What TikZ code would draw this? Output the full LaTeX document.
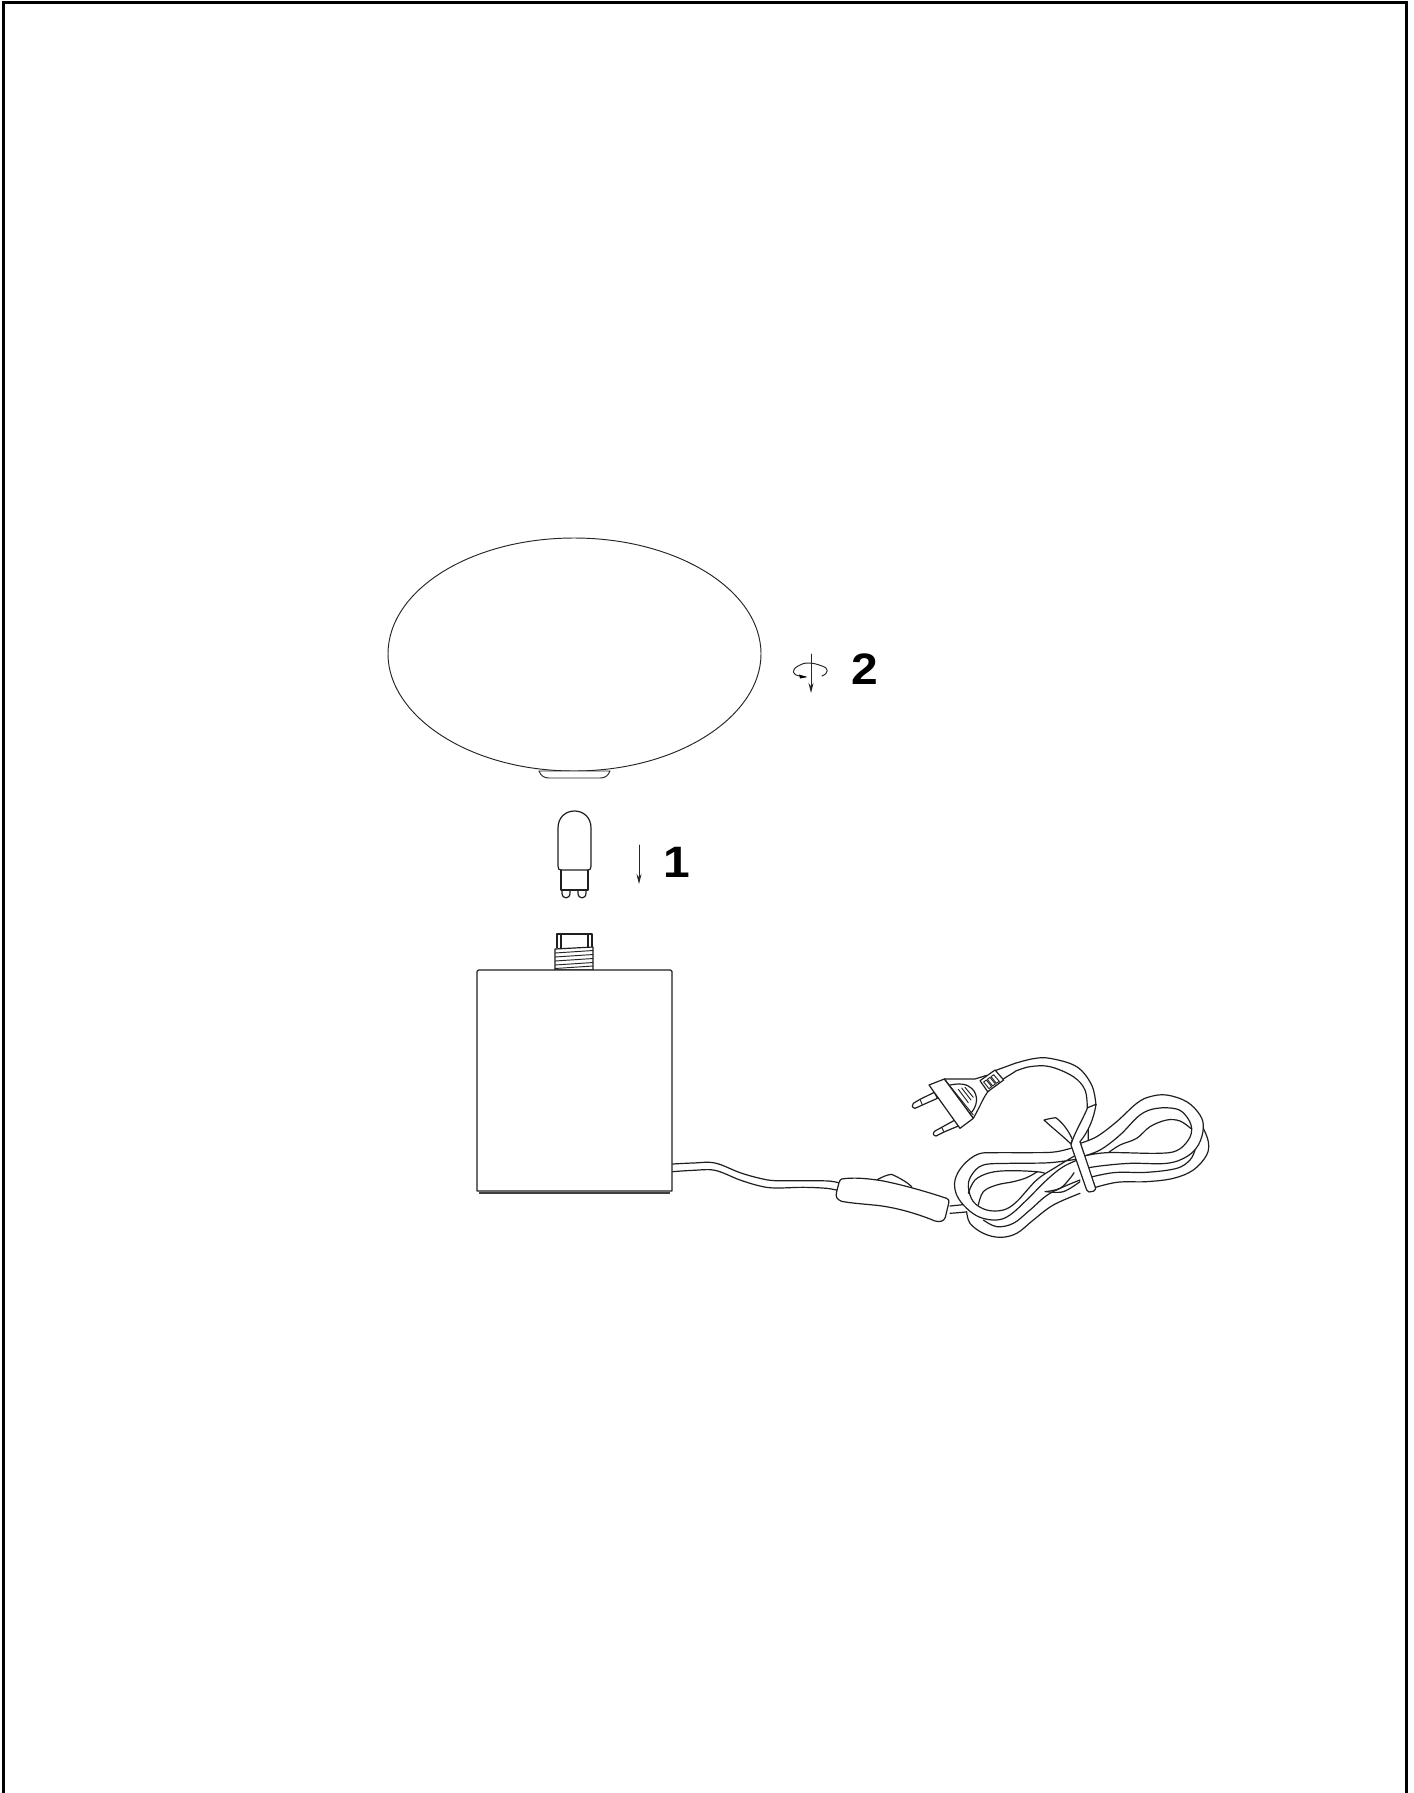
\documentclass[tikz,border=0pt]{standalone}
\usepackage{fontspec}
\setmainfont{Liberation Sans}
\usetikzlibrary{arrows.meta}
\tikzset{
  ln/.style={draw=black!88,line width=1.2pt,line join=round,line cap=round},
  thinln/.style={draw=black!85,line width=.95pt,line join=round,line cap=round},
  frameln/.style={draw=black,line width=3.5pt},
  num/.style={font=\bfseries\fontsize{44}{44}\selectfont,text=black,inner sep=0pt,xscale=1.09},
  zm/.style={x=.3333pt,y=-.3333pt},
  tip/.style={-{Stealth[length=10pt,width=5pt]}}
}
\newcommand{\crv}[1]{plot[smooth,tension=.6] coordinates {#1}}
\begin{document}
\begin{tikzpicture}[x=1pt,y=-1pt]
\fill[white] (0,0) rectangle (1413,1793);
\useasboundingbox (0,0) rectangle (1413,1793);
% frame
\draw[frameln] (3.5,1793) -- (3.5,2.5) -- (1406.5,2.5) -- (1406.5,1793);
% globe
\path[thinln,fill=white] (388,654) .. controls (388,590) and (471,538) .. (574,538)
  .. controls (677,538) and (761,590) .. (761,654)
  .. controls (761,715) and (680,771) .. (574,771)
  .. controls (468,771) and (388,715) .. (388,654) -- cycle;
\path[thinln,fill=white] (539,771) .. controls (541,776) and (544,778) .. (549,778) -- (600,778)
  .. controls (605,778) and (608,776) .. (610,771) -- cycle;
% rotation symbol
\draw[thinln,tip] (811,654) -- (811,693);
\draw[thinln] (822,676) .. controls (829,673) and (829,668) .. (822,666) .. controls (812,662) and (804,662) .. (798,666)
  .. controls (791,670) and (792,675) .. (800,676) -- (806,677);
\fill[black] (807,677) -- (799,674.5) -- (800,678.5) -- cycle;
\node[num] (n2) at (865,669) {2};
% bulb
\path[ln,fill=white] (558,866) -- (558,828) .. controls (558,817) and (566,811) .. (574.5,811)
  .. controls (583,811) and (591,817) .. (591,828) -- (591,866)
  .. controls (591,869) and (590,870) .. (588,870) -- (561,870) .. controls (559,870) and (558,869) .. (558,866) -- cycle;
\draw[ln] (561,870) -- (561,890) (588,870) -- (588,890) (561,890) -- (588,890);
\draw[ln] (562,890) -- (562,893) .. controls (562,899.5) and (570,899.5) .. (570,893) -- (570,890);
\draw[ln] (578,890) -- (578,893) .. controls (578,899.5) and (586,899.5) .. (586,893) -- (586,890);
% arrow 1
\draw[thinln,tip] (639,845) -- (639,884);
\node[num] (n1) at (676.5,862.5) {1};
% socket
\draw[ln] (557,948) -- (557,934) -- (592,934) -- (592,948);
\draw[ln] (561,934) -- (561,948) (588,934) -- (588,948);
\path[ln,fill=white] (555,970) -- (555,949) -- (593,947) -- (593,970) -- cycle;
\foreach \yy in {953,957,961,965,968.5}
  \draw[thinln] (555,\yy) -- (593,\yy-2.5);
% base
\draw[ln,fill=white] (477,1191) -- (477,971.5) .. controls (477,970.5) and (477.5,970) .. (478.5,970)
  -- (670.5,970) .. controls (671.5,970) and (672,970.5) .. (672,971.5) -- (672,1191) -- cycle;
\draw[line width=2.2pt,draw=black!75] (479,1193) -- (670,1193);
% cord base -> switch
\begin{scope}[shift={(660,1130)},zm]
\draw[ln] \crv{(38,102) (100,99) (165,99) (240,128) (300,145) (345,152) (430,152) (505,153) (535,158)};
\draw[ln] \crv{(38,125) (100,121) (165,121) (240,150) (300,168) (345,174) (430,172) (500,175) (532,181)};
% rocker
\draw[ln] (650,150) .. controls (665,142) and (680,134) .. (695,133) .. controls (715,142) and (740,155) .. (755,170);
% switch
\path[ln,fill=white] (545,147) .. controls (580,141) and (630,146) .. (670,153)
  .. controls (730,165) and (800,185) .. (860,205) .. controls (867,208) and (868,212) .. (866,220)
  -- (856,262) .. controls (852,274) and (840,277) .. (825,273)
  .. controls (770,250) and (700,230) .. (640,225) .. controls (600,221) and (570,219) .. (545,214)
  .. controls (530,208) and (526,200) .. (530,185) -- (537,158) .. controls (539,152) and (541,149) .. (545,147) -- cycle;
\end{scope}
% coil : left part
\begin{scope}[shift={(950,1130)},zm]
\draw[ln] \crv{(0,228) (30,225) (38,224)};
\draw[ln] \crv{(0,250) (25,248) (48,246)};
% lower strands
\draw[ln] \crv{(50,245) (60,280) (100,310) (150,322) (200,310) (250,270) (310,225) (390,190)};
\draw[ln] \crv{(100,270) (140,290) (190,280) (240,240) (300,190) (390,150)};
% inner lens
\draw[ln] \crv{(55,190) (75,150) (120,128) (180,122) (260,125) (285,130)};
\draw[ln] \crv{(85,225) (100,185) (140,165) (190,155) (230,143) (262,125)};
\draw[ln] \crv{(285,185) (330,175) (360,145) (372,128)};
\draw[ln] \crv{(290,185) (340,185) (390,155)};
% main loop
\draw[ln] \crv{(395,45) (320,65) (240,68) (140,68) (85,72) (40,105) (15,150) (20,195) (50,235) (90,262) (140,270) (180,255) (230,210) (290,150) (340,110) (395,85)};
\draw[ln] \crv{(395,85) (300,98) (180,100) (100,105) (65,135) (55,170) (70,215) (110,240) (160,240) (200,215) (260,150) (320,110) (395,65)};
\end{scope}
% coil : right part
\begin{scope}[shift={(1080,1085)},zm]
\draw[ln] \crv{(370,130) (385,170) (380,210) (340,255) (280,280) (200,290) (110,292) (30,312)};
\draw[ln] \crv{(345,195) (330,225) (290,250) (200,262) (100,263) (10,282)};
\draw[ln] \crv{(85,203) (120,180) (170,160) (210,125) (260,105) (300,108) (332,130)};
\draw[ln] \crv{(0,175) (50,155) (110,110) (170,55) (210,35) (260,30) (320,50) (360,90) (370,130) (355,180) (320,215) (260,235) (150,235) (60,243) (5,252)};
\draw[ln] \crv{(5,215) (80,203) (230,205) (290,197) (325,165) (335,130) (320,95) (290,72) (230,70) (180,90) (120,150) (60,195) (5,215)};
\draw[ln] \crv{(29,100) (25,130) (25,165)};
\end{scope}
% tie and plug cord
\begin{scope}[shift={(890,1040)},zm]
\draw[ln] \crv{(375,70) (430,56) (480,55) (560,80) (605,135) (618,195)};
\draw[ln] \crv{(375,94) (420,80) (480,80) (550,110) (585,150) (592,205)};
\path[ln,fill=white] (462,240) .. controls (475,237) and (485,234) .. (497,233) .. controls (515,245) and (535,270) .. (547,298)
  -- (543,312) .. controls (515,285) and (485,262) .. (462,240) -- cycle;
\path[ln,fill=white] (593,203) -- (618,193) .. controls (612,235) and (595,275) .. (570,305)
  -- (617,445) .. controls (616,452) and (606,458) .. (597,456) .. controls (593,455) and (591,453) .. (590,450)
  -- (543,315) .. controls (550,285) and (575,245) .. (593,203) -- cycle;
\end{scope}
% plug
\begin{scope}[shift={(905,1050)},zm]
\draw[ln] (330,40) -- (270,62) (330,65) -- (296,86);
\path[ln,fill=white] (88,127) -- (45,148) -- (25,160) .. controls (20,165) and (20,173) .. (30,175) -- (52,165) -- (97,145) -- cycle;
\draw[thinln] (45,148) -- (52,165);
\path[ln,fill=white] (150,210) -- (110,232) -- (90,243) .. controls (83,248) and (83,257) .. (93,258) -- (117,246) -- (160,228) -- cycle;
\draw[thinln] (110,232) -- (117,246);
\path[ln,fill=white] (118,87) -- (210,87) -- (245,76) -- (252,122) .. controls (238,135) and (225,170) .. (205,205) -- cycle;
\path[ln,fill=white] (72,105) -- (118,87) -- (205,205) -- (165,235) -- cycle;
\draw[thinln] (118,87) -- (205,195);
\draw[ln] (135,105) .. controls (160,100) and (185,100) .. (200,115) .. controls (222,135) and (218,170) .. (195,192);
\draw[thinln] (160,118) -- (190,158) (170,114) -- (198,150) (180,112) -- (205,142);
\path[ln,fill=white] (225,92) -- (270,60) -- (296,90) -- (248,125) -- cycle;
\draw[thinln] (236,96) -- (252,116) -- (260,110) -- (244,90) -- cycle;
\draw[thinln] (247,88) -- (263,108) -- (271,102) -- (255,82) -- cycle;
\draw[thinln] (258,80) -- (274,100) -- (283,94) -- (266,74) -- cycle;
\end{scope}
\end{tikzpicture}
\end{document}
